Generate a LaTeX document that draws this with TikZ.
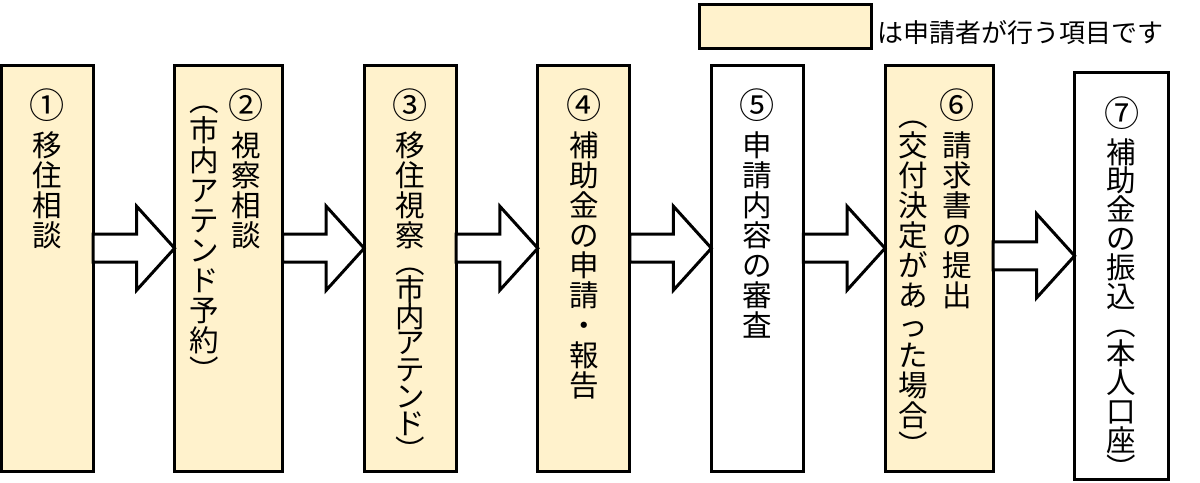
\documentclass[tikz,border=0pt]{standalone}
\usepackage{fontspec}
\setmainfont{Noto Sans CJK JP}
\usepackage{xcolor}
\usetikzlibrary{positioning, calc}
\definecolor{applicantfill}{HTML}{FFF2CC}
\newcommand{\tstrut}{\rule{0pt}{0.66cm}}
\newcommand{\stepnum}[1]{\tstrut\smash{\raisebox{-0.1cm}{\fontsize{25pt}{25pt}\selectfont #1}}}
\tikzset{%
% Specifications for style of nodes:
base/.style = {draw, line width=0.075cm, outer sep=0pt, inner sep=0pt, minimum height=10.16cm},
single/.style = {base, minimum width=2.3cm},
double/.style = {base, minimum width=2.7cm},
applicant/.style = {fill=applicantfill},
keybox/.style = {draw, line width=0.075cm, outer sep=0pt, applicant, minimum width=4.3cm, minimum height=1.11cm},
tate/.style = {anchor=north, inner sep=0pt, align=center, font=\fontsize{21pt}{0.75cm}\selectfont},
% outlined block arrow from one box to the next
blockarrow/.style = {draw, fill=white, line width=0.075cm, line join=miter, to path={
  let \p1=(\tikztostart), \p2=(\tikztotarget) in
  (\x1,\y2+0.85cm) -- (\x2-0.95cm,\y2+0.85cm) -- (\x2-0.95cm,\y2+1.55cm) -- (\x2,\y2+0.5cm)
  -- (\x2-0.95cm,\y2-0.55cm) -- (\x2-0.95cm,\y2+0.15cm) -- (\x1,\y2+0.15cm) -- cycle}},
}

\begin{document}
\begin{tikzpicture}[node distance=2.04cm]
    \useasboundingbox (0,0) rectangle (30,12.075);
    % Specification of nodes (position, etc.)
    \node (key) [keybox] at (19.64,11.406) {};
    \node (keytext) [right=0.14cm of key, yshift=-0.14cm, inner sep=0pt, font=\fontsize{18.5pt}{22pt}\selectfont] {は申請者が行う項目です};

    \node (consult) [single, applicant] at (1.175,5.369) {};
    \node (visitConsult) [double, applicant, right=of consult] {};
    \node (visit) [single, applicant, right=of visitConsult] {};
    \node (apply) [single, applicant, right=of visit] {};
    \node (review) [single, right=of apply] {};
    \node (claim) [double, applicant, right=of review] {};
    \node (payment) [single, minimum width=2.35cm, right=of claim, yshift=-0.19cm] {};

    % vertical texts
    \node (consultText) [tate, below=0.575cm of consult.north] {\stepnum{①}\\[0.3cm]移\\住\\相\\談};
    \node (visitConsultText) [tate, below=0.575cm of visitConsult.north, xshift=0.43cm] {\stepnum{②}\\[0.3cm]視\\察\\相\\談};
    \node (visitConsultNote) [tate, below=0.5cm of visitConsult.north, xshift=-0.62cm] {\tstrut︵\\市\\内\\ア\\テ\\ン\\ド\\予\\約\\︶};
    \node (visitText) [tate, below=0.575cm of visit.north] {\stepnum{③}\\[0.3cm]移\\住\\視\\察\\[-0.08cm]︵\\[-0.08cm]市\\[-0.08cm]内\\[-0.08cm]ア\\[-0.08cm]テ\\[-0.08cm]ン\\[-0.08cm]ド\\[-0.08cm]︶};
    \node (applyText) [tate, below=0.575cm of apply.north] {\stepnum{④}\\[0.3cm]補\\助\\金\\の\\申\\請\\・\\報\\告};
    \node (reviewText) [tate, below=0.575cm of review.north] {\stepnum{⑤}\\[0.3cm]申\\請\\内\\容\\の\\審\\査};
    \node (claimText) [tate, below=0.575cm of claim.north, xshift=0.45cm] {\stepnum{⑥}\\[0.3cm]請\\求\\書\\の\\提\\出};
    \node (claimNote) [tate, below=0.875cm of claim.north, xshift=-0.65cm] {\tstrut︵\\交\\付\\決\\定\\が\\あ\\っ\\た\\場\\合\\︶};
    \node (paymentText) [tate, below=0.575cm of payment.north, font=\fontsize{21pt}{0.72cm}\selectfont] {\stepnum{⑦}\\[0.3cm]補\\助\\金\\の\\振\\込\\︵\\本\\人\\口\\座\\︶};

    \draw [blockarrow] (consult.east) to (visitConsult.west);
    \draw [blockarrow] (visitConsult.east) to (visit.west);
    \draw [blockarrow] (visit.east) to (apply.west);
    \draw [blockarrow] (apply.east) to (review.west);
    \draw [blockarrow] (review.east) to (claim.west);
    \draw [blockarrow] (claim.east) to (payment.west);
\end{tikzpicture}
\end{document}
